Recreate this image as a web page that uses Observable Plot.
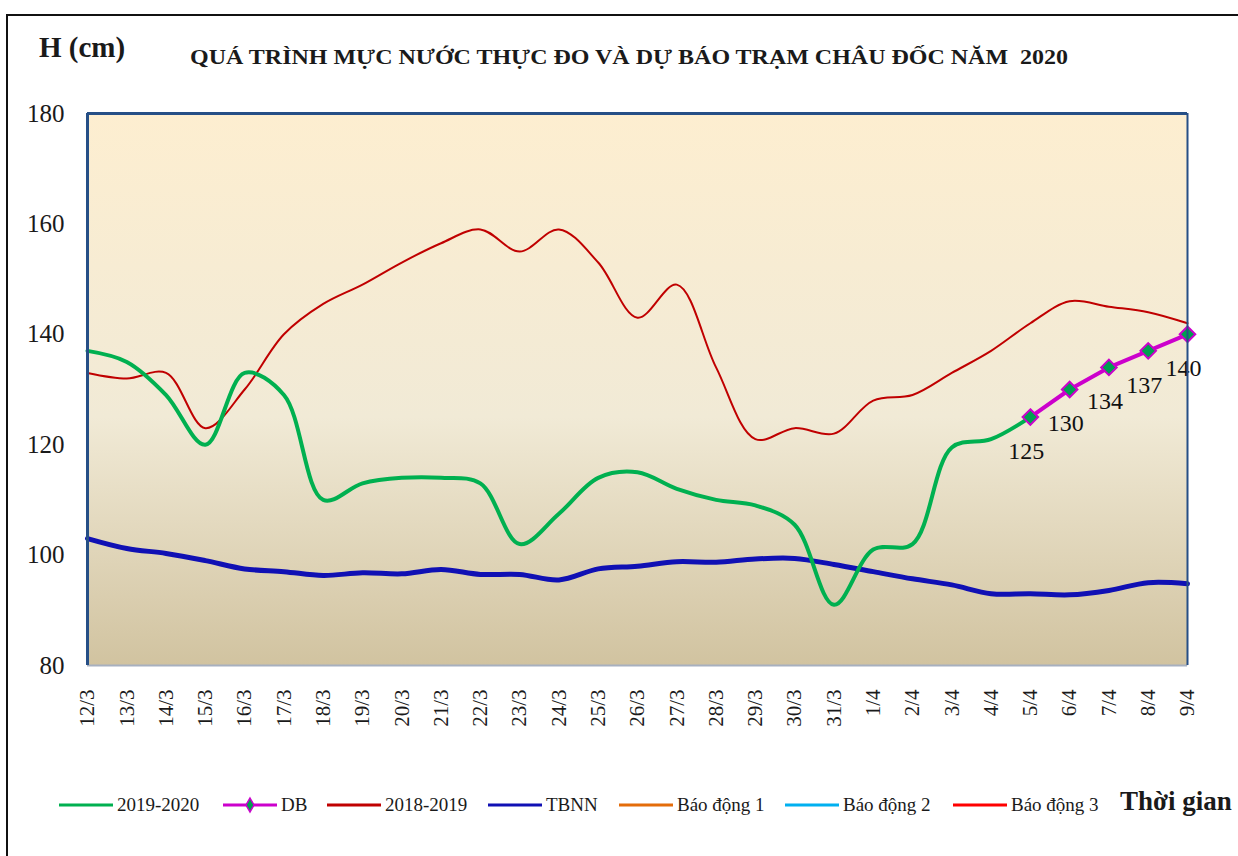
<!DOCTYPE html>
<html>
<head>
<meta charset="utf-8">
<script src="https://cdn.jsdelivr.net/npm/d3@7"></script>
<script src="https://cdn.jsdelivr.net/npm/@observablehq/plot@0.6"></script>
<style>
  body { margin: 0; background: #fff; }
  #wrap { position: relative; width: 1238px; height: 856px; overflow: hidden; font-family: "Liberation Serif", "Times New Roman", serif; color: #1a1a1a; }
  #border { position: absolute; left: 6px; top: 14px; width: 1400px; height: 1000px; border: 2px solid #111; box-sizing: border-box; }
  #chart { position: absolute; left: 0; top: 0; }
  #chart svg, #chart svg text { font-family: "Liberation Serif", "Times New Roman", serif !important; }
  #hcm { position: absolute; left: 39px; top: 31px; font-weight: bold; font-size: 29px; white-space: nowrap; }
  #title { position: absolute; left: 190px; top: 46px; font-weight: bold; font-size: 20px; white-space: nowrap; transform-origin: left top; }
  #legend { position: absolute; left: 0; top: 790px; width: 1238px; height: 30px; }
  .li { position: absolute; top: 0; height: 30px; display: flex; align-items: center; font-size: 19px; white-space: nowrap; }
  .li svg { margin-right: 4px; }
  #tg { position: absolute; left: 1120px; top: 786px; font-weight: bold; font-size: 27px; white-space: nowrap; }
</style>
</head>
<body>
<div id="wrap">
  <div id="border"></div>
  <div id="chart"></div>
  <div id="hcm">H (cm)</div>
  <div id="title">QUÁ TRÌNH MỰC NƯỚC THỰC ĐO VÀ DỰ BÁO TRẠM CHÂU ĐỐC NĂM&nbsp; 2020</div>
  <div id="legend"></div>
  <div id="tg">Thời gian</div>
</div>
<script>
const dates = ["12/3","13/3","14/3","15/3","16/3","17/3","18/3","19/3","20/3","21/3","22/3","23/3","24/3","25/3","26/3","27/3","28/3","29/3","30/3","31/3","1/4","2/4","3/4","4/4","5/4","6/4","7/4","8/4","9/4"];
const h20192020 = [137,135,129,120,133,129,110,113,114,114,113,102,107.5,114,115,112,110,109,105.5,91,101,102,119.5,121,125];
const dbDates = ["5/4","6/4","7/4","8/4","9/4"];
const dbValues = [125,130,134,137,140];
const h20182019 = [133,132,133,123,130,140,145.5,149,153,156.5,159,155,159,153,143,149,134,121,123,122,128,129,133,137,142,146,145,144,142];
const tbnn = [103,101.2,100.3,99,97.5,97,96.3,96.8,96.6,97.4,96.5,96.5,95.5,97.5,98,98.8,98.7,99.3,99.4,98.3,97,95.7,94.6,93,93,92.8,93.6,95,94.8];
const yTicks = [80,100,120,140,160,180];

const legendItems = [
  {label: "2019-2020", color: "#00b050", left: 59, db: false},
  {label: "DB", color: "#cc00cc", left: 223, db: true},
  {label: "2018-2019", color: "#c00000", left: 327, db: false},
  {label: "TBNN", color: "#1010b4", left: 488, db: false},
  {label: "Báo động 1", color: "#e46c0a", left: 619, db: false},
  {label: "Báo động 2", color: "#00b0f0", left: 785, db: false},
  {label: "Báo động 3", color: "#ff0000", left: 953, db: false}
];

const serif = "Liberation Serif";
const s2020 = h20192020.map((v, i) => ({d: dates[i], v}));
const sDB = dbValues.map((v, i) => ({d: dbDates[i], v}));
const s2019 = h20182019.map((v, i) => ({d: dates[i], v}));
const sTB = tbnn.map((v, i) => ({d: dates[i], v}));

const chart = Plot.plot({
  width: 1238,
  height: 856,
  marginLeft: 87,
  marginRight: 51,
  marginTop: 113,
  marginBottom: 191,
  style: {fontFamily: serif, background: "transparent", color: "#1a1a1a"},
  x: {type: "point", domain: dates, padding: 0, round: false},
  y: {domain: [80, 180]},
  marks: [
    Plot.frame({fill: "url(#bgGrad)", stroke: null}),
    Plot.axisY({ticks: yTicks, tickSize: 0, tickPadding: 23, fontSize: 25, fontFamily: serif, label: null}),
    Plot.axisX({tickRotate: -90, tickSize: 0, tickPadding: 24, fontSize: 21, fontFamily: serif, label: null}),
    Plot.line(sTB, {x: "d", y: "v", stroke: "#1010b4", strokeWidth: 5, curve: "catmull-rom"}),
    Plot.line(s2019, {x: "d", y: "v", stroke: "#c00000", strokeWidth: 2, curve: "catmull-rom"}),
    Plot.line(s2020, {x: "d", y: "v", stroke: "#00b050", strokeWidth: 4, curve: "catmull-rom"}),
    Plot.line(sDB, {x: "d", y: "v", stroke: "#cc00cc", strokeWidth: 4}),
    Plot.dot(sDB, {x: "d", y: "v", symbol: "diamond2", r: 7, fill: "#00a050", stroke: "#cc00cc", strokeWidth: 2}),
    Plot.text(sDB, {x: "d", y: "v", text: d => String(d.v), dy: 34, dx: -4, fontSize: 24, fontFamily: serif, fill: "#111"}),
    Plot.ruleY([80], {stroke: "#a7b0bf", strokeWidth: 2}),
    Plot.ruleX([dates[0]], {stroke: "#264f86", strokeWidth: 3}),
    Plot.ruleX([dates[dates.length - 1]], {stroke: "#264f86", strokeWidth: 2}),
    Plot.ruleY([180], {stroke: "#264f86", strokeWidth: 3})
  ]
});

const defs = d3.select(chart).insert("defs", ":first-child");
const g = defs.append("linearGradient").attr("id", "bgGrad").attr("x1", 0).attr("y1", 0).attr("x2", 0).attr("y2", 1);
g.append("stop").attr("offset", "0%").attr("stop-color", "#fdeed0");
g.append("stop").attr("offset", "55%").attr("stop-color", "#f1ead6");
g.append("stop").attr("offset", "100%").attr("stop-color", "#d1c3a0");

document.getElementById("chart").appendChild(chart);

const leg = d3.select("#legend");
legendItems.forEach(it => {
  const div = leg.append("div").attr("class", "li").style("left", it.left + "px");
  const sv = div.append("svg").attr("width", 54).attr("height", 20);
  sv.append("line").attr("x1", 0).attr("x2", 54).attr("y1", 10).attr("y2", 10).attr("stroke", it.color).attr("stroke-width", 3);
  if (it.db) {
    sv.append("path").attr("d", "M27,3 L31,10 L27,17 L23,10 Z").attr("fill", "#00a050").attr("stroke", "#cc00cc").attr("stroke-width", 1.5);
  }
  div.append("span").text(it.label);
});

const t = document.getElementById("title");
const w = t.getBoundingClientRect().width;
t.style.transform = `scaleX(${878 / w})`;
</script>
</body>
</html>
